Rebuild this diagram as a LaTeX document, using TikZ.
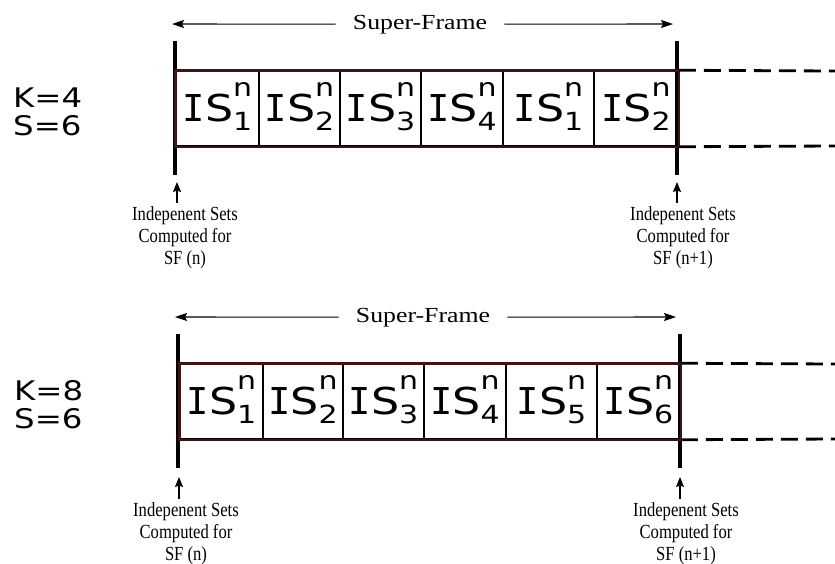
\documentclass[tikz,border=0pt]{standalone}
\usepackage{fontspec}
\setmainfont{Liberation Serif}
\newfontfamily\sfserif[FakeStretch=1.2]{Liberation Serif}
\newfontfamily\labserif[FakeStretch=0.83]{Liberation Serif}
\newfontfamily\kvsans[FakeStretch=1.2]{DejaVu Sans}
\newfontfamily\ismono{DejaVu Sans Mono}
\usetikzlibrary{arrows.meta}

\definecolor{framebrown}{RGB}{60,20,20}

% independent set symbol IS_k^n
\newcommand\ISset[1]{{\fontsize{37}{37}\selectfont{\ismono I}{\kvsans S}}%
  \rlap{\kvsans\fontsize{25}{25}\selectfont\raisebox{25pt}{n}}%
  {\kvsans\fontsize{25}{25}\selectfont\raisebox{-9pt}{#1}}}

\tikzset{
  bar/.style={line width=3.5pt, black},
  cell/.style={draw=black, line width=1.5pt, minimum height=75pt, inner sep=0pt,
    text height=37.5pt, text depth=12.5pt},
  framebox/.style={draw=framebrown, line width=2.5pt},
  dashline/.style={line width=2.8pt, dash pattern=on 17pt off 8pt},
  spanarrow/.style={line width=1.1pt, -{Stealth[length=12pt,width=8pt,inset=2pt]}},
  uparrow/.style={line width=1.1pt, -{Stealth[length=10pt,width=8pt,inset=1.5pt]}},
  sftext/.style={font=\sfserif\fontsize{21.5}{24}\selectfont, inner xsep=17pt, inner ysep=0pt},
  lab/.style={font=\labserif\fontsize{20}{22}\selectfont, align=center, inner xsep=0pt, inner ysep=3pt, anchor=north},
  kval/.style={font=\kvsans\fontsize{27}{28}\selectfont, anchor=base west, inner sep=0pt},
}

\begin{document}
\begin{tikzpicture}[x=1pt, y=-1pt]
\useasboundingbox (0,0) rectangle (835,563);

% ---------- first super-frame: K=4, S=6 ----------
\begin{scope}
  \node[kval] (tK) at (13,107) {K=4};
  \node[kval] (tS) at (13,135) {S=6};

  \coordinate (tLtop) at (175,41);  \coordinate (tLbot) at (175,175);
  \coordinate (tRtop) at (677,41);  \coordinate (tRbot) at (677,175);
  \draw[bar] (tLtop) -- (tLbot);
  \draw[bar] (tRtop) -- (tRbot);

  \node[cell, minimum width=83pt] (t1) at (217.5,108.5) {\ISset{1}};
  \node[cell, minimum width=81pt] (t2) at (299.5,108.5) {\ISset{2}};
  \node[cell, minimum width=81pt] (t3) at (380.5,108.5) {\ISset{3}};
  \node[cell, minimum width=82pt] (t4) at (462,108.5)   {\ISset{4}};
  \node[cell, minimum width=91pt] (t5) at (548.5,108.5) {\ISset{1}};
  \node[cell, minimum width=84pt] (t6) at (636,108.5)   {\ISset{2}};
  \draw[framebox] (t1.north west) rectangle (t6.south east);

  \coordinate (tDtop) at (835,71);
  \coordinate (tDbot) at (835,146);
  \draw[dashline] (t6.north east) -- (tDtop);
  \draw[dashline] (t6.south east) -- (tDbot);

  \node[sftext, anchor=base] (tSF) at (420,29) {Super-Frame};
  \coordinate (tSFl) at (172,24);
  \coordinate (tSFr) at (673,24);
  \draw[spanarrow] (tSF.west) -- (tSFl);
  \draw[spanarrow] (tSF.east) -- (tSFr);

  \coordinate (tLtip) at (177,182);
  \coordinate (tRtip) at (677,182);
  \node[lab] (tLlab) at (185,203) {Indepenent Sets\\Computed for\\SF (n)};
  \node[lab] (tRlab) at (683,203) {Indepenent Sets\\Computed for\\SF (n+1)};
  \draw[uparrow] (tLtip |- tLlab.north) -- (tLtip);
  \draw[uparrow] (tRtip |- tRlab.north) -- (tRtip);
\end{scope}

% ---------- second super-frame: K=8, S=6 ----------
\begin{scope}[shift={(3,293)}]
  \node[kval] (bK) at (11,107) {K=8};
  \node[kval] (bS) at (11,135) {S=6};

  \coordinate (bLtop) at (175,41);  \coordinate (bLbot) at (175,175);
  \coordinate (bRtop) at (677,41);  \coordinate (bRbot) at (677,175);
  \draw[bar] (bLtop) -- (bLbot);
  \draw[bar] (bRtop) -- (bRbot);

  \node[cell, minimum width=83pt] (b1) at (218.5,108.5) {\ISset{1}};
  \node[cell, minimum width=80pt] (b2) at (300,108.5)   {\ISset{2}};
  \node[cell, minimum width=81pt] (b3) at (380.5,108.5) {\ISset{3}};
  \node[cell, minimum width=82pt] (b4) at (462,108.5)   {\ISset{4}};
  \node[cell, minimum width=91pt] (b5) at (548.5,108.5) {\ISset{5}};
  \node[cell, minimum width=83pt] (b6) at (635.5,108.5) {\ISset{6}};
  \draw[framebox] (b1.north west) rectangle (b6.south east);

  \coordinate (bDtop) at (832,71);
  \coordinate (bDbot) at (832,146);
  \draw[dashline] (b6.north east) -- (bDtop);
  \draw[dashline] (b6.south east) -- (bDbot);

  \node[sftext, anchor=base] (bSF) at (420,29) {Super-Frame};
  \coordinate (bSFl) at (172,24);
  \coordinate (bSFr) at (673,24);
  \draw[spanarrow] (bSF.west) -- (bSFl);
  \draw[spanarrow] (bSF.east) -- (bSFr);

  \coordinate (bLtip) at (176,184);
  \coordinate (bRtip) at (677,184);
  \node[lab] (bLlab) at (183,206) {Indepenent Sets\\Computed for\\SF (n)};
  \node[lab] (bRlab) at (683,206) {Indepenent Sets\\Computed for\\SF (n+1)};
  \draw[uparrow] (bLtip |- bLlab.north) -- (bLtip);
  \draw[uparrow] (bRtip |- bRlab.north) -- (bRtip);
\end{scope}
\end{tikzpicture}
\end{document}
